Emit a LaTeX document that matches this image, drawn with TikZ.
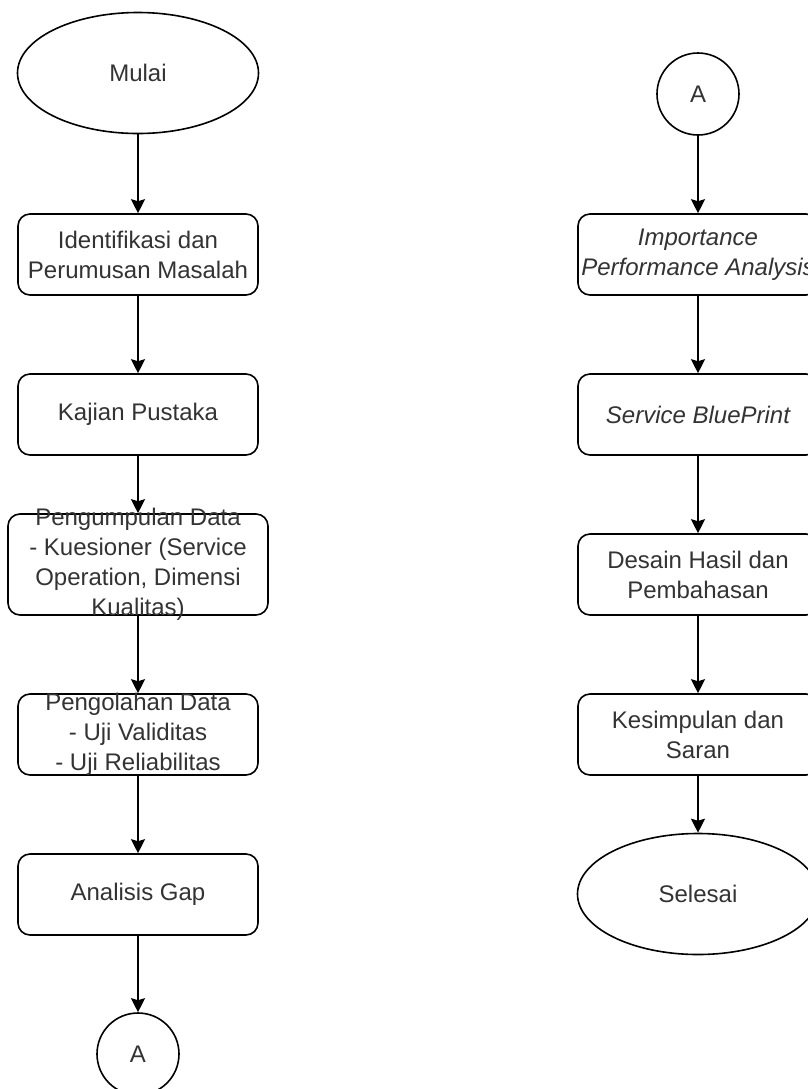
\documentclass[tikz,border=0pt]{standalone}
\usepackage{fontspec}
\setmainfont{Liberation Sans}
\usetikzlibrary{shapes.geometric,arrows.meta}

\begin{document}
\begin{tikzpicture}[x=.5pt,y=-.5pt,
		every node/.style={font=\fontsize{12}{15}\selectfont,text=black!80},
		boxtext/.style={align=center,inner sep=0pt},
		box/.style={draw,rounded corners=6pt,line width=.8pt,minimum width=120pt,minimum height=40.5pt,boxtext},
		terminal/.style={draw,ellipse,line width=.8pt,minimum width=120.5pt,minimum height=60.5pt,inner sep=0pt},
		connector/.style={draw,circle,line width=.8pt,minimum size=41pt,inner sep=0pt},
		flow/.style={line width=.8pt,-{Stealth[length=7pt,width=7pt,inset=1pt]}}]
		\clip (0,0) rectangle (808,1089);
		\fill[white] (0,0) rectangle (808,1089);

		\node[terminal] (mulai) at (138,73){Mulai};
		\node[box] (identifikasi) at (138,254.5){Identifikasi dan\\Perumusan Masalah};
		\node[box] (kajian) at (138,414.5){Kajian Pustaka};
		\node[box,minimum width=130pt,minimum height=50.5pt,
			label={[boxtext]center:Pengumpulan Data\\- Kuesioner (Service\\Operation, Dimensi\\Kualitas)}] (pengumpulan) at (138,564.5){};
		\node[box,label={[boxtext]center:Pengolahan Data\\- Uji Validitas\\- Uji Reliabilitas}] (pengolahan) at (138,734.5){};
		\node[box] (gap) at (138,894.5){Analisis Gap};
		\node[connector] (konA) at (138,1054){A};

		\draw[flow] (mulai)--(identifikasi);
		\draw[flow] (identifikasi)--(kajian);
		\draw[flow] (kajian)--(pengumpulan);
		\draw[flow] (pengumpulan)--(pengolahan);
		\draw[flow] (pengolahan)--(gap);
		\draw[flow] (gap)--(konA);

		\node[connector] (mulaiA) at (698,94){A};
		\node[box] (ipa) at (698,254.5){\itshape Importance\\\itshape Performance Analysis};
		\node[box] (blueprint) at (698,414.5){\itshape Service BluePrint};
		\node[box] (desain) at (698,574.5){Desain Hasil dan\\Pembahasan};
		\node[box] (kesimpulan) at (698,734.5){Kesimpulan dan\\Saran};
		\node[terminal] (selesai) at (698,894){Selesai};

		\draw[flow] (mulaiA)--(ipa);
		\draw[flow] (ipa)--(blueprint);
		\draw[flow] (blueprint)--(desain);
		\draw[flow] (desain)--(kesimpulan);
		\draw[flow] (kesimpulan)--(selesai);
	\end{tikzpicture}
\end{document}
